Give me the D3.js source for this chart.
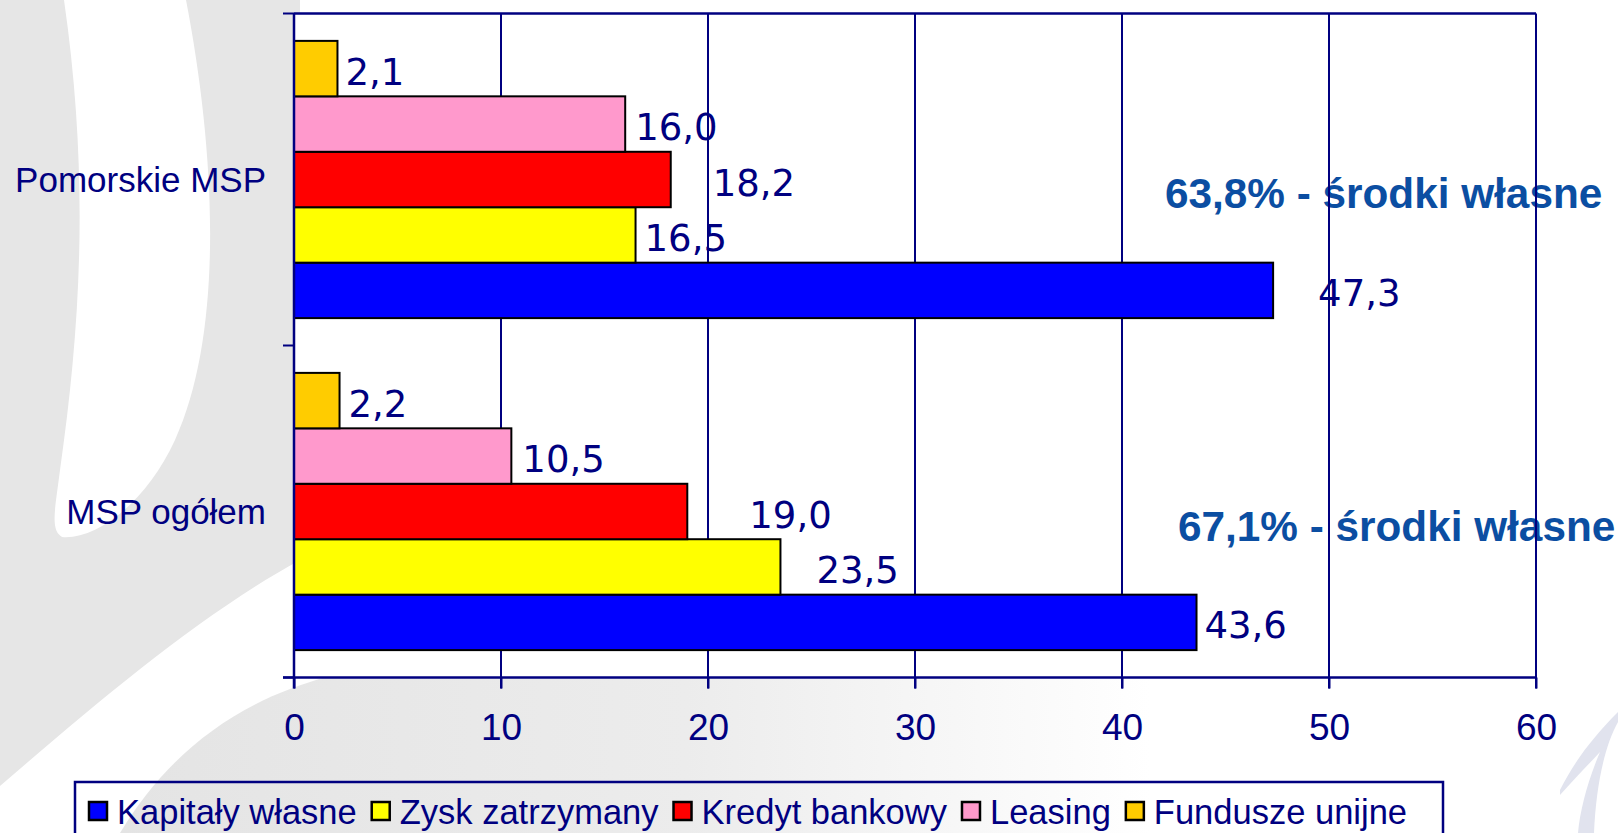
<!DOCTYPE html>
<html>
<head>
<meta charset="utf-8">
<script src="https://cdnjs.cloudflare.com/ajax/libs/d3/7.8.5/d3.min.js"></script>
<style>
  html, body { margin: 0; padding: 0; background: #ffffff; overflow: hidden; }
  svg { display: block; }
</style>
</head>
<body>
<script>
// data
var categories = ["Pomorskie MSP", "MSP ogółem"];
var seriesNames = ["Kapitały własne", "Zysk zatrzymany", "Kredyt bankowy", "Leasing", "Fundusze unijne"];
var pomorskieValues = [47.3, 16.5, 18.2, 16.0, 2.1];
var ogolemValues = [43.6, 23.5, 19.0, 10.5, 2.2];
var seriesColors = ["#0000ff", "#ffff00", "#ff0000", "#ff99cc", "#ffcc00"];
var xTicks = [0, 10, 20, 30, 40, 50, 60];
var notes = ["63,8% - środki własne", "67,1% - środki własne"];

var valuesByCategory = [pomorskieValues, ogolemValues];

// size of the page
var w = 1622;
var h = 833;
var navy = "#000080";

var svg = d3.select("body")
            .append("svg")
            .attr("width", w)
            .attr("height", h);

// background swooshes ----------------------------------------------
var defs = svg.append("defs");
var grad = defs.append("linearGradient")
    .attr("id", "fade")
    .attr("x1", "0").attr("x2", "1").attr("y1", "0").attr("y2", "0");
grad.append("stop").attr("offset", "0").attr("stop-color", "#e4e4e4");
grad.append("stop").attr("offset", "0.55").attr("stop-color", "#ececec");
grad.append("stop").attr("offset", "1").attr("stop-color", "#ffffff");

var bg = svg.append("g");
bg.append("path")
  .attr("d", "M0,0 L300,0 L300,560 C200,615 100,700 0,786 Z")
  .attr("fill", "#e6e6e6");
// white crescent
bg.append("path")
  .attr("d", "M64,0 L186,0 C215,150 225,330 175,440 C145,505 95,540 62,537 C50,530 55,510 60,470 C80,330 90,180 64,0 Z")
  .attr("fill", "#ffffff");
bg.append("path")
  .attr("d", "M120,833 C170,750 240,700 330,676 C520,635 820,640 1150,668 L1150,833 Z")
  .attr("fill", "url(#fade)");
// faint logo stroke bottom right
bg.append("path")
  .attr("d", "M1560,790 C1575,760 1595,735 1618,712 L1618,722 C1605,745 1596,785 1594,833 L1578,833 C1580,810 1588,780 1600,752 C1588,765 1575,778 1560,795 Z")
  .attr("fill", "#e1e3ee");

// scales -------------------------------------------------------------
var x = d3.scaleLinear()
          .domain([0, 60])
          .range([294, 1536]);

var y = d3.scaleBand()
          .domain(categories)
          .range([13.5, 677.5])
          .paddingInner(0.165)
          .paddingOuter(0.0825);

// bars stack from the bottom up in the legend order
var ySeries = d3.scaleBand()
                .domain(seriesNames.slice().reverse())
                .range([0, y.bandwidth()]);

var plotTop = 13.5, plotBottom = 677.5;

// plot area
svg.append("rect")
   .attr("x", x(0))
   .attr("y", plotTop)
   .attr("width", x(60) - x(0))
   .attr("height", plotBottom - plotTop)
   .attr("fill", "#ffffff");

// data labels (nudges copy where the slide put them)
var labelShift = [[47, 11, 44, 12, 10], [10, 38, 64, 13, 11]];
var labels = svg.append("g");
categories.forEach(function(cat, ci) {
    labels.selectAll(null)
       .data(valuesByCategory[ci])
       .enter()
       .append("text")
       .attr("x", function(d, i) { return x(d) + labelShift[ci][i] - 2; })
       .attr("y", function(d, i) { return y(cat) + ySeries(seriesNames[i]) + ySeries.bandwidth() / 2 + 16; })
       .attr("font-family", "'DejaVu Sans', Verdana, sans-serif")
       .attr("font-size", 37)
       .attr("fill", navy)
       .text(function(d) { return d.toFixed(1).replace(".", ","); });
});

// annotations
var noteY = [208, 541];
var noteX = [1165, 1178];
svg.selectAll(".note")
   .data(notes)
   .enter()
   .append("text")
   .attr("class", "note")
   .attr("x", function(d, i) { return noteX[i]; })
   .attr("y", function(d, i) { return noteY[i]; })
   .attr("font-family", "'Liberation Sans', Arial, sans-serif")
   .attr("font-weight", "bold")
   .attr("font-size", 42.3)
   .attr("fill", "#0b4ea2")
   .text(function(d) { return d; });

// grid lines + frame
var grid = svg.append("g");
grid.selectAll("line")
    .data(xTicks.slice(1))
    .enter()
    .append("line")
    .attr("x1", function(d) { return x(d); })
    .attr("x2", function(d) { return x(d); })
    .attr("y1", plotTop)
    .attr("y2", plotBottom + 11)
    .attr("stroke", navy)
    .attr("stroke-width", 2);
grid.append("line")
    .attr("x1", x(0)).attr("x2", x(60))
    .attr("y1", plotTop).attr("y2", plotTop)
    .attr("stroke", navy).attr("stroke-width", 2.5);

// bars
categories.forEach(function(cat, ci) {
    svg.append("g")
       .selectAll("rect")
       .data(valuesByCategory[ci])
       .enter()
       .append("rect")
       .attr("x", x(0))
       .attr("y", function(d, i) { return y(cat) + ySeries(seriesNames[i]); })
       .attr("width", function(d) { return x(d) - x(0); })
       .attr("height", ySeries.bandwidth())
       .attr("fill", function(d, i) { return seriesColors[i]; })
       .attr("stroke", "#000000")
       .attr("stroke-width", 2);
});

// value axis
var xAxis = d3.axisBottom(x)
              .tickValues(xTicks)
              .tickSize(11)
              .tickFormat(d3.format("d"));
var gx = svg.append("g")
            .attr("transform", "translate(0," + plotBottom + ")")
            .call(xAxis);
gx.select(".domain").remove();
gx.selectAll(".tick line").attr("stroke", navy).attr("stroke-width", 2);
gx.selectAll(".tick text")
  .attr("y", 0)
  .attr("dy", 62)
  .attr("font-family", "'Liberation Sans', Arial, sans-serif")
  .attr("font-size", 37)
  .attr("fill", navy);
svg.append("line")
   .attr("x1", x(0) - 11).attr("x2", x(60))
   .attr("y1", plotBottom).attr("y2", plotBottom)
   .attr("stroke", navy).attr("stroke-width", 2.5);

// category axis
svg.append("line")
   .attr("x1", x(0)).attr("x2", x(0))
   .attr("y1", plotTop).attr("y2", plotBottom + 11)
   .attr("stroke", navy).attr("stroke-width", 2.5);
var catTicks = [plotTop, y(categories[1]) - y.step() * y.paddingInner() / 2, plotBottom];
svg.selectAll(".cattick")
   .data(catTicks)
   .enter()
   .append("line")
   .attr("class", "cattick")
   .attr("x1", x(0) - 11).attr("x2", x(0))
   .attr("y1", function(d) { return d; })
   .attr("y2", function(d) { return d; })
   .attr("stroke", navy).attr("stroke-width", 2);

svg.selectAll(".catlabel")
   .data(categories)
   .enter()
   .append("text")
   .attr("class", "catlabel")
   .attr("x", 266)
   .attr("y", function(d) { return y(d) + y.bandwidth() / 2 + 12; })
   .attr("text-anchor", "end")
   .attr("font-family", "'Liberation Sans', Arial, sans-serif")
   .attr("font-size", 35)
   .attr("fill", navy)
   .text(function(d) { return d; });

// legend
var legend = svg.append("g");
legend.append("rect")
      .attr("x", 75)
      .attr("y", 782)
      .attr("width", 1368)
      .attr("height", 80)
      .attr("fill", "none")
      .attr("stroke", navy)
      .attr("stroke-width", 2.5);

var lx = 89;
seriesNames.forEach(function(name, i) {
    legend.append("rect")
          .attr("x", lx)
          .attr("y", 802)
          .attr("width", 18)
          .attr("height", 18)
          .attr("fill", seriesColors[i])
          .attr("stroke", "#000000")
          .attr("stroke-width", 2.5);
    var t = legend.append("text")
          .attr("x", lx + 28)
          .attr("y", 824)
          .attr("font-family", "'Liberation Sans', Arial, sans-serif")
          .attr("font-size", 34.5)
          .attr("fill", navy)
          .text(name);
    lx = lx + 28 + t.node().getComputedTextLength() + 15;
});
</script>
</body>
</html>
